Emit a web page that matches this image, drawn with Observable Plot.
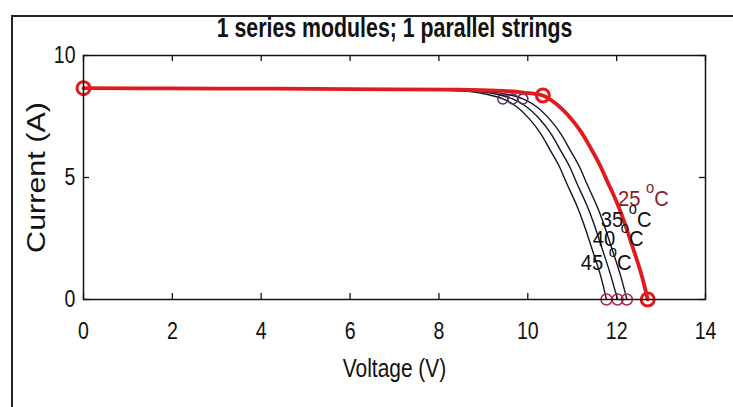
<!DOCTYPE html>
<html>
<head>
<meta charset="utf-8">
<script src="https://cdn.jsdelivr.net/npm/d3@7"></script>
<script src="https://cdn.jsdelivr.net/npm/@observablehq/plot@0.6"></script>
<style>
  html, body { margin: 0; padding: 0; background: #fff; }
  #wrap { position: relative; width: 733px; height: 407px; overflow: hidden; }
  #outer { position: absolute; left: 11px; top: 15px; width: 740px; height: 420px;
           border-left: 2px solid #222; border-top: 2px solid #222; }
  #chart { position: absolute; left: 0; top: 0; }
</style>
</head>
<body>
<div id="wrap"><div id="outer"></div><div id="chart"></div></div>
<script>
const titleText = "1 series modules; 1 parallel strings";
const xLabelText = "Voltage (V)";
const yLabelText = "Current (A)";
const xTicks = [0, 2, 4, 6, 8, 10, 12, 14];
const yTicks = [0, 5, 10];

const temps = ["25", "35", "40", "45"];

const volt25 = [0, 2, 4.3, 6, 8.3, 9.3, 9.9, 10.34, 10.65, 10.97, 11.2, 11.42, 11.62, 11.80, 12.0, 12.16, 12.36, 12.55, 12.70];
const curr25 = [8.66, 8.65, 8.64, 8.62, 8.6, 8.56, 8.48, 8.36, 8.0, 7.42, 6.87, 6.19, 5.52, 4.80, 4.0, 3.24, 2.15, 1.07, 0];

const volt35 = [0, 2, 4.3, 6, 8.3, 9.1, 9.55, 9.89, 10.2, 10.51, 10.74, 10.96, 11.16, 11.34, 11.54, 11.70, 11.90, 12.09, 12.23];
const curr35 = [8.66, 8.65, 8.64, 8.62, 8.58, 8.52, 8.4, 8.22, 7.9, 7.35, 6.8, 6.1, 5.45, 4.7, 3.9, 3.15, 2.05, 0.97, 0];

const volt40 = [0, 2, 4.3, 6, 8.2, 8.9, 9.33, 9.66, 9.97, 10.29, 10.52, 10.74, 10.94, 11.12, 11.32, 11.48, 11.68, 11.87, 12.02];
const curr40 = [8.66, 8.65, 8.64, 8.62, 8.58, 8.52, 8.4, 8.22, 7.9, 7.35, 6.8, 6.1, 5.45, 4.7, 3.9, 3.15, 2.05, 0.97, 0];

const volt45 = [0, 2, 4.3, 6, 8.0, 8.7, 9.1, 9.44, 9.75, 10.06, 10.29, 10.51, 10.71, 10.89, 11.09, 11.25, 11.45, 11.64, 11.77];
const curr45 = [8.66, 8.65, 8.64, 8.62, 8.58, 8.52, 8.4, 8.22, 7.9, 7.35, 6.8, 6.1, 5.45, 4.7, 3.9, 3.15, 2.05, 0.97, 0];

// key points (short circuit, max power, open circuit)
const iscCurr = [8.66, 8.66, 8.66, 8.66];
const mppVolt = [10.34, 9.89, 9.66, 9.44];
const mppCurr = [8.36, 8.22, 8.22, 8.22];
const vocVolt = [12.70, 12.23, 12.02, 11.77];

// temperature annotations (anchor in data units)
const labelVolt = [12.03, 11.64, 11.46, 11.19];
const labelCurr = [4.14, 3.24, 2.50, 1.48];
const degreeMark = "o";
const unitMark = "C";

const seriesV = [volt25, volt35, volt40, volt45];
const seriesI = [curr25, curr35, curr40, curr45];
const curves = temps.flatMap((t, k) => seriesV[k].map((v, j) => ({t, v, i: seriesI[k][j]})));
const blackCurves = curves.filter(d => d.t !== "25");
const redCurve = curves.filter(d => d.t === "25");

const keyPts = temps.map((t, k) => ({t, mv: mppVolt[k], mi: mppCurr[k], voc: vocVolt[k], isc: iscCurr[k]}));
const blackPts = keyPts.filter(d => d.t !== "25");
const redPts = keyPts.filter(d => d.t === "25");
const labels = temps.map((t, k) => ({t, v: labelVolt[k], i: labelCurr[k]}));

const sans = "'Liberation Sans', Arial, 'DejaVu Sans', sans-serif";
const RED = "#e11b1d";
const DARK = "#141428";
const labelColor = t => t === "25" ? "#8e1b26" : "#111";

const chart = Plot.plot({
  width: 733,
  height: 407,
  marginLeft: 83,
  marginRight: 28,
  marginTop: 55,
  marginBottom: 108,
  style: {fontFamily: sans, background: "transparent", color: "#111"},
  x: {domain: [0, 14]},
  y: {domain: [0, 10]},
  marks: [
    Plot.axisX(xTicks, {tickSize: 0, tickPadding: 23, fontSize: 23, label: null}),
    Plot.axisY(yTicks, {tickSize: 0, tickPadding: 8, fontSize: 23, label: null}),
    Plot.tickX(xTicks, {x: d => d, insetTop: 238, stroke: "#111", strokeWidth: 1.3}),
    Plot.tickX(xTicks, {x: d => d, insetBottom: 238, stroke: "#111", strokeWidth: 1.3}),
    Plot.tickY(yTicks, {y: d => d, insetRight: 616, stroke: "#111", strokeWidth: 1.3}),
    Plot.tickY(yTicks, {y: d => d, insetLeft: 616, stroke: "#111", strokeWidth: 1.3}),
    Plot.line(blackCurves, {x: "v", y: "i", z: "t", stroke: DARK, strokeWidth: 1.4, curve: "catmull-rom"}),
    Plot.dot(blackPts, {x: "mv", y: "mi", r: 5, stroke: "#55305e", strokeWidth: 1.5, fill: "none"}),
    Plot.dot(blackPts, {x: "voc", y: () => 0, r: 5.5, stroke: "#b02a4a", strokeWidth: 1.5, fill: "none"}),
    Plot.line(redCurve, {x: "v", y: "i", stroke: RED, strokeWidth: 3.8, curve: "catmull-rom"}),
    Plot.dot(redPts, {x: () => 0, y: "isc", r: 6.5, stroke: RED, strokeWidth: 3, fill: "none"}),
    Plot.dot(redPts, {x: "mv", y: "mi", r: 6.5, stroke: RED, strokeWidth: 3, fill: "none"}),
    Plot.dot(redPts, {x: "voc", y: () => 0, r: 6.5, stroke: RED, strokeWidth: 3, fill: "none"}),
    Plot.frame({stroke: "#111", strokeWidth: 1.5}),
    Plot.text(labels, {x: "v", y: "i", text: "t", textAnchor: "start", lineAnchor: "middle", fontSize: 22, fill: d => labelColor(d.t), ariaLabel: () => "temp-label"}),
    Plot.text([titleText], {frameAnchor: "top", dy: -27, lineAnchor: "middle", fontSize: 27, fontWeight: "bold", fill: "#111"}),
    Plot.text([xLabelText], {frameAnchor: "bottom", dy: 69, lineAnchor: "middle", fontSize: 26.5, fill: "#111"}),
    Plot.text([yLabelText], {frameAnchor: "left", dx: -47, rotate: -90, textAnchor: "middle", lineAnchor: "middle", fontSize: 25, fill: "#111"})
  ]
});

// Temperature labels: "NN ^oC" with a raised "o"
const tempNodes = new Set([
  ...chart.querySelectorAll("text[aria-label='temp-label']"),
  ...chart.querySelectorAll("g[aria-label='temp-label'] text")
]);
tempNodes.forEach(node => {
  const el = d3.select(node);
  const num = el.text();
  el.text(null);
  el.append("tspan").text(num + " ");
  el.append("tspan").attr("font-size", 16).attr("dy", -13).text(degreeMark);
  el.append("tspan").attr("dy", 13).text(unitMark);
});

// Condense / stretch text horizontally to match the reference lettering
const stretchBySize = {"23": 0.85, "22": 0.92, "27": 0.79, "26.5": 0.79, "25": 1.22};
d3.select(chart).selectAll("text").each(function() {
  let node = this, fs = null;
  while (node && node.getAttribute && fs === null) {
    fs = node.getAttribute("font-size");
    node = node.parentNode;
  }
  const s = stretchBySize[fs];
  if (!s) return;
  const el = d3.select(this);
  const x = el.attr("x");
  if (x !== null && x !== undefined) el.attr("x", (+x) / s);
  const t = el.attr("transform") || "";
  el.attr("transform", `${t} scale(${s},1)`);
});

document.getElementById("chart").appendChild(chart);
</script>
</body>
</html>
